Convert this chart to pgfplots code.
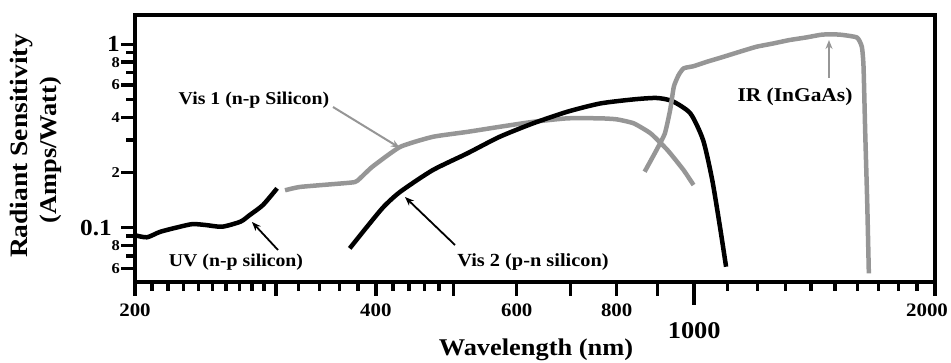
\documentclass[border=0pt]{standalone}
\usepackage{fontspec}
\setmainfont{Liberation Serif}[FakeStretch=1.1]
\usepackage{pgfplots}
\pgfplotsset{compat=1.18}
\usetikzlibrary{arrows.meta}
\definecolor{lgray}{RGB}{150,150,150}
\newcommand\fs[1]{\fontsize{#1}{#1}\selectfont\bfseries}
\begin{document}
\begin{tikzpicture}
\begin{axis}[at={(0,0)},anchor=south west,
 width=800pt,height=267pt,scale only axis,
 xmode=log, ymode=log,
 xmin=200,xmax=2000,ymin=0.0506,ymax=1.445,
 axis line style={line width=4pt,line cap=rect},
 tick pos=left, tick align=outside,
 major tick length=14pt, minor tick length=9pt,
 tick style={line width=3.5pt,black},
 minor tick style={line width=3.5pt},
 xtick={200,300,400,500,600,700,800,900,2000},
 xticklabels={200,,400,,600,,800,,{\kern-16pt 2000}},
 minor xtick={210,220,230,240,250,260,270,280,290,320,340,360,380,420,440,460,480,1100,1200,1300,1400,1500,1600,1700,1800,1900},
 xticklabel style={font=\fs{19},yshift=-4pt},
 extra x ticks={1000},
 extra x tick labels={\fs{24}1000},
 extra x tick style={major tick length=23pt, xticklabel style={yshift=-10pt}},
 ytick={0.06,0.08,0.1,0.2,0.4,0.6,0.8,1},
 yticklabels={{\fs{15}6},{\fs{15}8},{\fs{23}0.1\kern8pt},{\fs{15}2},{\fs{15}4},{\fs{15}6},{\fs{15}8},{\fs{23}\raisebox{-6pt}{1}}},
 minor ytick={0.07,0.09,0.3,0.5,0.7,0.9},
 yticklabel style={inner sep=1pt},
]
% UV (n-p silicon)
\addplot[black, line width=4.5pt, line join=round, smooth, tension=0.4] coordinates {
(200,0.091) (207,0.0887) (215,0.095) (227,0.101) (236,0.1047) (245,0.1035) (257,0.1013) (271,0.108) (278,0.117) (289,0.133) (301,0.164)};
% Vis 1 (n-p Silicon)
\addplot[lgray, line width=4.5pt, line join=round, smooth, tension=0.3] coordinates {
(308,0.160) (322,0.167) (371,0.176) (379,0.180) (396,0.215) (429,0.276) (471,0.313) (520,0.333) (571,0.355) (629,0.378) (694,0.395) (763,0.395) (800,0.39) (840,0.371) (882,0.327) (926,0.265) (970,0.206) (998,0.171)};
% Vis 2 (p-n silicon)
\addplot[black, line width=4.5pt, line join=round, smooth, tension=0.4] coordinates {
(371,0.0772) (390,0.1013) (409,0.130) (429,0.157) (471,0.206) (520,0.254) (571,0.313) (629,0.371) (694,0.429) (763,0.476) (840,0.501) (897,0.51) (939,0.49) (989,0.42) (1026,0.30) (1053,0.183) (1077,0.101) (1096,0.0613)};
% IR (InGaAs)
\addplot[lgray, line width=4.5pt, line join=round, smooth, tension=0.3] coordinates {
(867,0.202) (897,0.265) (919,0.327) (933,0.438) (943,0.588) (956,0.68) (970,0.74) (998,0.76) (1034,0.80) (1083,0.85) (1139,0.91) (1196,0.97) (1254,1.01) (1315,1.055) (1380,1.09) (1446,1.13) (1518,1.13) (1597,1.09) (1620,0.97) (1628,0.755) (1636,0.327) (1645,0.142) (1653,0.0564)};
\end{axis}
\begin{scope}[x=1pt,y=-1pt,shift={(-135pt,282pt)}]
\node[font=\fs{18}] at (254,100) {Vis 1 (n-p Silicon)};
\draw[lgray, line width=2pt, -{Stealth[length=9pt,width=7pt]}] (333,107) -- (400,148);
\node[font=\fs{18}] at (236,262) {UV (n-p silicon)};
\draw[black, line width=1.8pt, -{Stealth[length=9pt,width=7pt]}] (278,250) -- (252,222);
\node[font=\fs{18.5}] at (533,262) {Vis 2 (p-n silicon)};
\draw[black, line width=1.8pt, -{Stealth[length=9pt,width=7pt]}] (455,245) -- (405,197);
\node[font=\fs{19.5}] at (795,97) {IR (InGaAs)};
\draw[lgray, line width=2pt, -{Stealth[length=9pt,width=7pt]}] (829,78) -- (829,40);
\node[font=\fs{25}, rotate=90] at (22,146) {Radiant Sensitivity};
\node[font=\fs{24}, rotate=90] at (51,150) {(Amps/Watt)};
\node[font=\fs{24}] at (536,350) {Wavelength (nm)};
\pgfresetboundingbox
\path[use as bounding box] (0,0) rectangle (951,362);
\end{scope}
\end{tikzpicture}
\end{document}
